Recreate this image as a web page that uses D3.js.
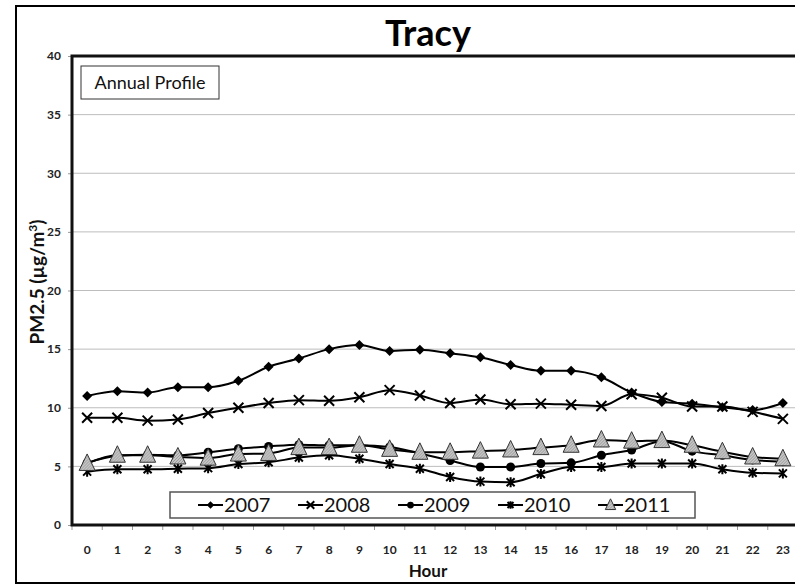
<!DOCTYPE html>
<html>
<head>
<meta charset="utf-8">
<script src="https://cdn.jsdelivr.net/npm/d3@7"></script>
<style>
  body { margin: 0; background: #fff; }
  text { font-family: Lato, "Open Sans", sans-serif; }
</style>
</head>
<body>
<div class="chart"></div>
<script>
// hours of the day
var hours = d3.range(0, 24);
var yTicks = [0, 5, 10, 15, 20, 25, 30, 35, 40];
var years = ["2007", "2008", "2009", "2010", "2011"];

// PM2.5 by hour
var pm2007 = [11.0, 11.4, 11.3, 11.75, 11.75, 12.3, 13.5, 14.2, 15.0, 15.35, 14.85, 14.95,
  14.65, 14.3, 13.65, 13.15, 13.15, 12.6, 11.3, 10.5, 10.35, 10.05, 9.8, 10.4];
var pm2008 = [9.15, 9.15, 8.9, 9.0, 9.55, 10.0, 10.4, 10.65, 10.6, 10.9, 11.5, 11.05,
  10.4, 10.7, 10.3, 10.35, 10.25, 10.15, 11.15, 10.85, 10.1, 10.1, 9.65, 9.05];
var pm2009 = [5.3, 5.9, 6.0, 5.95, 6.2, 6.5, 6.7, 6.85, 6.8, 6.8, 6.65, 6.1,
  5.5, 4.95, 4.95, 5.25, 5.3, 5.95, 6.4, 7.15, 6.3, 5.95, 5.55, 5.4];
var pm2010 = [4.55, 4.75, 4.75, 4.8, 4.85, 5.2, 5.35, 5.75, 5.95, 5.65, 5.2, 4.8,
  4.1, 3.7, 3.65, 4.35, 4.95, 4.95, 5.25, 5.25, 5.25, 4.75, 4.45, 4.4];
var pm2011 = [5.25, 5.95, 5.95, 5.8, 5.7, 6.05, 6.1, 6.6, 6.6, 6.8, 6.45, 6.2,
  6.2, 6.3, 6.4, 6.6, 6.8, 7.25, 7.15, 7.2, 6.8, 6.25, 5.8, 5.65];

var svgWidth = 795;
var svgHeight = 584;

var svg = d3.select(".chart")
  .append("svg")
  .attr("width", svgWidth)
  .attr("height", svgHeight);

// hatch fill for the triangles
var pat = svg.append("defs").append("pattern")
  .attr("id", "hatch")
  .attr("patternUnits", "userSpaceOnUse")
  .attr("width", 3)
  .attr("height", 3);
pat.append("rect").attr("width", 3).attr("height", 3).attr("fill", "#c8c8c8");
pat.append("path").attr("d", "M0,3 L3,0").attr("stroke", "#8a8a8a").attr("stroke-width", 0.8);

// outer frame
svg.append("rect")
  .attr("x", 16).attr("y", 6)
  .attr("width", 800).attr("height", 577)
  .attr("fill", "none")
  .attr("stroke", "#000")
  .attr("stroke-width", 2);

var x = d3.scaleBand()
  .domain(hours)
  .range([72, 798]);

var y = d3.scaleLinear()
  .domain([0, 40])
  .range([525, 56]);

var xc = d => x(d) + x.bandwidth() / 2;

// gridlines
svg.append("g")
  .selectAll("line")
  .data(yTicks.filter(d => d > 0 && d < 40))
  .enter()
  .append("line")
  .attr("x1", 72).attr("x2", 798)
  .attr("y1", d => y(d)).attr("y2", d => y(d))
  .attr("stroke", "#bdbdbd")
  .attr("stroke-width", 1);

// y axis
var leftAxis = d3.axisLeft(y).tickValues(yTicks).tickSize(4).tickPadding(7);
var yAxis = svg.append("g")
  .attr("transform", "translate(72,0)")
  .call(leftAxis);
yAxis.select(".domain").remove();
yAxis.selectAll(".tick line").attr("stroke", "#999");
yAxis.selectAll(".tick text")
  .attr("font-size", 12)
  .attr("font-weight", "bold")
  .attr("fill", "#222")
  .style("font-family", "Lato, sans-serif");

// x axis: ticks sit on band edges, labels in band centres
var bottomAxis = d3.axisBottom(x).tickSize(0).tickPadding(20);
var xAxis = svg.append("g")
  .attr("transform", "translate(0,525)")
  .call(bottomAxis);
xAxis.select(".domain").remove();
xAxis.selectAll(".tick text")
  .attr("font-size", 12)
  .attr("font-weight", "bold")
  .attr("fill", "#222")
  .style("font-family", "Lato, sans-serif");
svg.append("g")
  .selectAll("line")
  .data(hours)
  .enter()
  .append("line")
  .attr("x1", d => x(d)).attr("x2", d => x(d))
  .attr("y1", 525).attr("y2", 530)
  .attr("stroke", "#999");

// plot area border
svg.append("rect")
  .attr("x", 72).attr("y", 56)
  .attr("width", 730).attr("height", 469)
  .attr("fill", "none")
  .attr("stroke", "#111")
  .attr("stroke-width", 3);

// marker shapes
function drawMarker(g, year, s) {
  if (year === "2007") {
    g.append("path")
      .attr("d", `M0,${-5 * s} L${5 * s},0 L0,${5 * s} L${-5 * s},0 Z`)
      .attr("fill", "#000");
  } else if (year === "2008") {
    g.append("path")
      .attr("d", `M${-5 * s},${-5 * s} L${5 * s},${5 * s} M${-5 * s},${5 * s} L${5 * s},${-5 * s}`)
      .attr("stroke", "#000").attr("stroke-width", 2);
  } else if (year === "2009") {
    g.append("circle").attr("r", 4.5 * s).attr("fill", "#000");
  } else if (year === "2010") {
    g.append("path")
      .attr("d", `M${-4 * s},${-4 * s} L${4 * s},${4 * s} M${-4 * s},${4 * s} L${4 * s},${-4 * s} M0,${-5 * s} L0,${5 * s}`)
      .attr("stroke", "#000").attr("stroke-width", 2);
  } else {
    g.append("path")
      .attr("d", `M0,${-9.5 * s} L${8 * s},${7 * s} L${-8 * s},${7 * s} Z`)
      .attr("fill", "url(#hatch)")
      .attr("stroke", "#333")
      .attr("stroke-width", 1);
  }
}

var seriesData = [pm2007, pm2008, pm2009, pm2010, pm2011];

var line = d3.line()
  .x((d, i) => xc(hours[i]))
  .y(d => y(d))
  .curve(d3.curveMonotoneX);

seriesData.forEach(function(vals, k) {
  var g = svg.append("g");
  g.append("path")
    .datum(vals)
    .attr("d", line)
    .attr("fill", "none")
    .attr("stroke", "#000")
    .attr("stroke-width", 2);
  vals.forEach(function(v, i) {
    var m = g.append("g")
      .attr("transform", `translate(${xc(hours[i])},${y(v)})`);
    drawMarker(m, years[k], 1);
  });
});

// legend
var legend = svg.append("g");
legend.append("rect")
  .attr("x", 170).attr("y", 492)
  .attr("width", 525).attr("height", 26)
  .attr("fill", "#fff")
  .attr("stroke", "#555")
  .attr("stroke-width", 1.5);
years.forEach(function(yr, k) {
  var lx = 198 + k * 100;
  var item = legend.append("g");
  item.append("line")
    .attr("x1", lx).attr("x2", lx + 25)
    .attr("y1", 505).attr("y2", 505)
    .attr("stroke", "#000").attr("stroke-width", 2);
  var m = item.append("g").attr("transform", `translate(${lx + 12.5},505)`);
  drawMarker(m, yr, yr === "2011" ? 0.65 : 0.75);
  item.append("text")
    .attr("x", lx + 26)
    .attr("y", 512)
    .attr("font-size", 20)
    .attr("fill", "#111")
    .text(yr);
});

// annotation box
svg.append("rect")
  .attr("x", 81).attr("y", 66)
  .attr("width", 138).attr("height", 33)
  .attr("fill", "#fff")
  .attr("stroke", "#333")
  .attr("stroke-width", 1);
svg.append("text")
  .attr("x", 150).attr("y", 89)
  .attr("text-anchor", "middle")
  .attr("font-size", 18)
  .attr("fill", "#111")
  .text("Annual Profile");

// title
svg.append("text")
  .attr("x", 428).attr("y", 46)
  .attr("text-anchor", "middle")
  .attr("font-size", 36)
  .attr("font-weight", "bold")
  .attr("fill", "#000")
  .text("Tracy");

// axis titles
svg.append("text")
  .attr("x", 428).attr("y", 577)
  .attr("text-anchor", "middle")
  .attr("font-size", 17)
  .attr("font-weight", "bold")
  .attr("fill", "#111")
  .text("Hour");

var yl = svg.append("text")
  .attr("transform", "translate(44,282) rotate(-90)")
  .attr("text-anchor", "middle")
  .attr("font-size", 19)
  .attr("font-weight", "bold")
  .attr("fill", "#111");
yl.append("tspan").text("PM2.5 (µg/m");
yl.append("tspan").attr("dy", -7).attr("font-size", 12).text("3");
yl.append("tspan").attr("dy", 7).text(")");
</script>
</body>
</html>
